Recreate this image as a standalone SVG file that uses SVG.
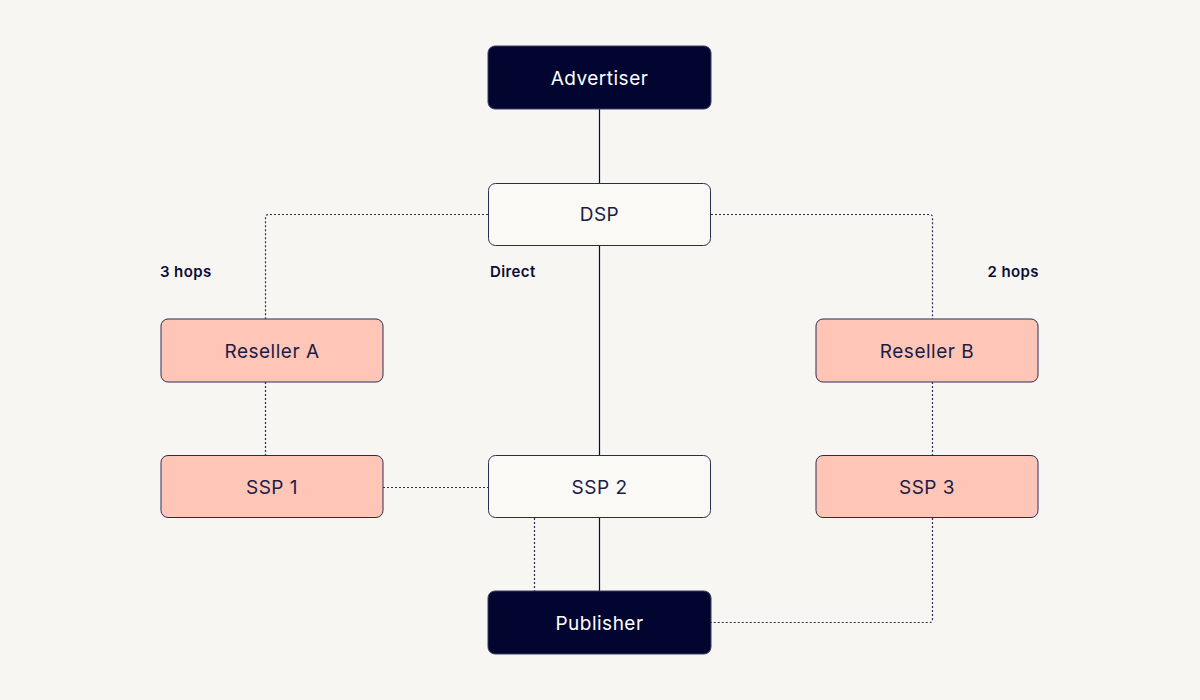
<svg xmlns="http://www.w3.org/2000/svg" width="1200" height="700" viewBox="0 0 1200 700">
<style>
.bg{fill:#f7f6f2}
.dark rect{fill:#030531;stroke:#3a3c5e;stroke-width:1}
.light rect{fill:#faf9f6;stroke:#2a2c55;stroke-width:1}
.pink rect{fill:#ffc6b8;stroke:#2a2c55;stroke-width:1}
.node text{font-family:Inter,"Liberation Sans",sans-serif;font-size:19px;font-weight:400;letter-spacing:0.5px;text-anchor:middle;dominant-baseline:central}
.dark text{fill:#ffffff}
.light text,.pink text{fill:#1a1c45}
.solid{fill:none;stroke:#0a0c35;stroke-width:1.2}
.dot{fill:none;stroke:#2a2c55;stroke-width:1.2;stroke-dasharray:2 2}
.lbl{font-family:Inter,"Liberation Sans",sans-serif;font-size:15px;font-weight:600;letter-spacing:0.4px;fill:#0a0c35}
</style>
<rect class="bg" width="1200" height="700"/>
<g id="connectors">
<line class="solid" x1="599.5" y1="109" x2="599.5" y2="183"/>
<line class="solid" x1="599.5" y1="245" x2="599.5" y2="455"/>
<line class="solid" x1="599.5" y1="518" x2="599.5" y2="591"/>
<path class="dot" d="M488 214.5 H268.5 Q265.5 214.5 265.5 217.5 V319"/>
<line class="dot" x1="265.5" y1="382" x2="265.5" y2="455"/>
<line class="dot" x1="383" y1="487.5" x2="488" y2="487.5"/>
<line class="dot" x1="534.5" y1="518" x2="534.5" y2="591"/>
<path class="dot" d="M711 214.5 H929.5 Q932.5 214.5 932.5 217.5 V319"/>
<line class="dot" x1="932.5" y1="382" x2="932.5" y2="455"/>
<path class="dot" d="M932.5 518 V619.5 Q932.5 622.5 929.5 622.5 H711"/>
</g>
<g id="labels">
<text class="lbl" x="160" y="277">3 hops</text>
<text class="lbl" x="490" y="277">Direct</text>
<text class="lbl" x="1039" y="277" text-anchor="end">2 hops</text>
</g>
<g id="advertiser" class="node dark"><rect x="488" y="46" width="223" height="63" rx="7"/><text x="599.5" y="78">Advertiser</text></g>
<g id="dsp" class="node light"><rect x="488.5" y="183.5" width="222" height="62" rx="7"/><text x="599.5" y="214.5">DSP</text></g>
<g id="reseller-a" class="node pink"><rect x="161" y="319" width="222" height="63" rx="7"/><text x="272" y="351">Reseller A</text></g>
<g id="ssp1" class="node pink"><rect x="161" y="455.5" width="222" height="62" rx="7"/><text x="272" y="487">SSP 1</text></g>
<g id="ssp2" class="node light"><rect x="488.5" y="455.5" width="222" height="62" rx="7"/><text x="599.5" y="487">SSP 2</text></g>
<g id="reseller-b" class="node pink"><rect x="816" y="319" width="222" height="63" rx="7"/><text x="927" y="351">Reseller B</text></g>
<g id="ssp3" class="node pink"><rect x="816" y="455.5" width="222" height="62" rx="7"/><text x="927" y="487">SSP 3</text></g>
<g id="publisher" class="node dark"><rect x="488" y="591" width="223" height="63" rx="7"/><text x="599.5" y="623">Publisher</text></g>
</svg>
